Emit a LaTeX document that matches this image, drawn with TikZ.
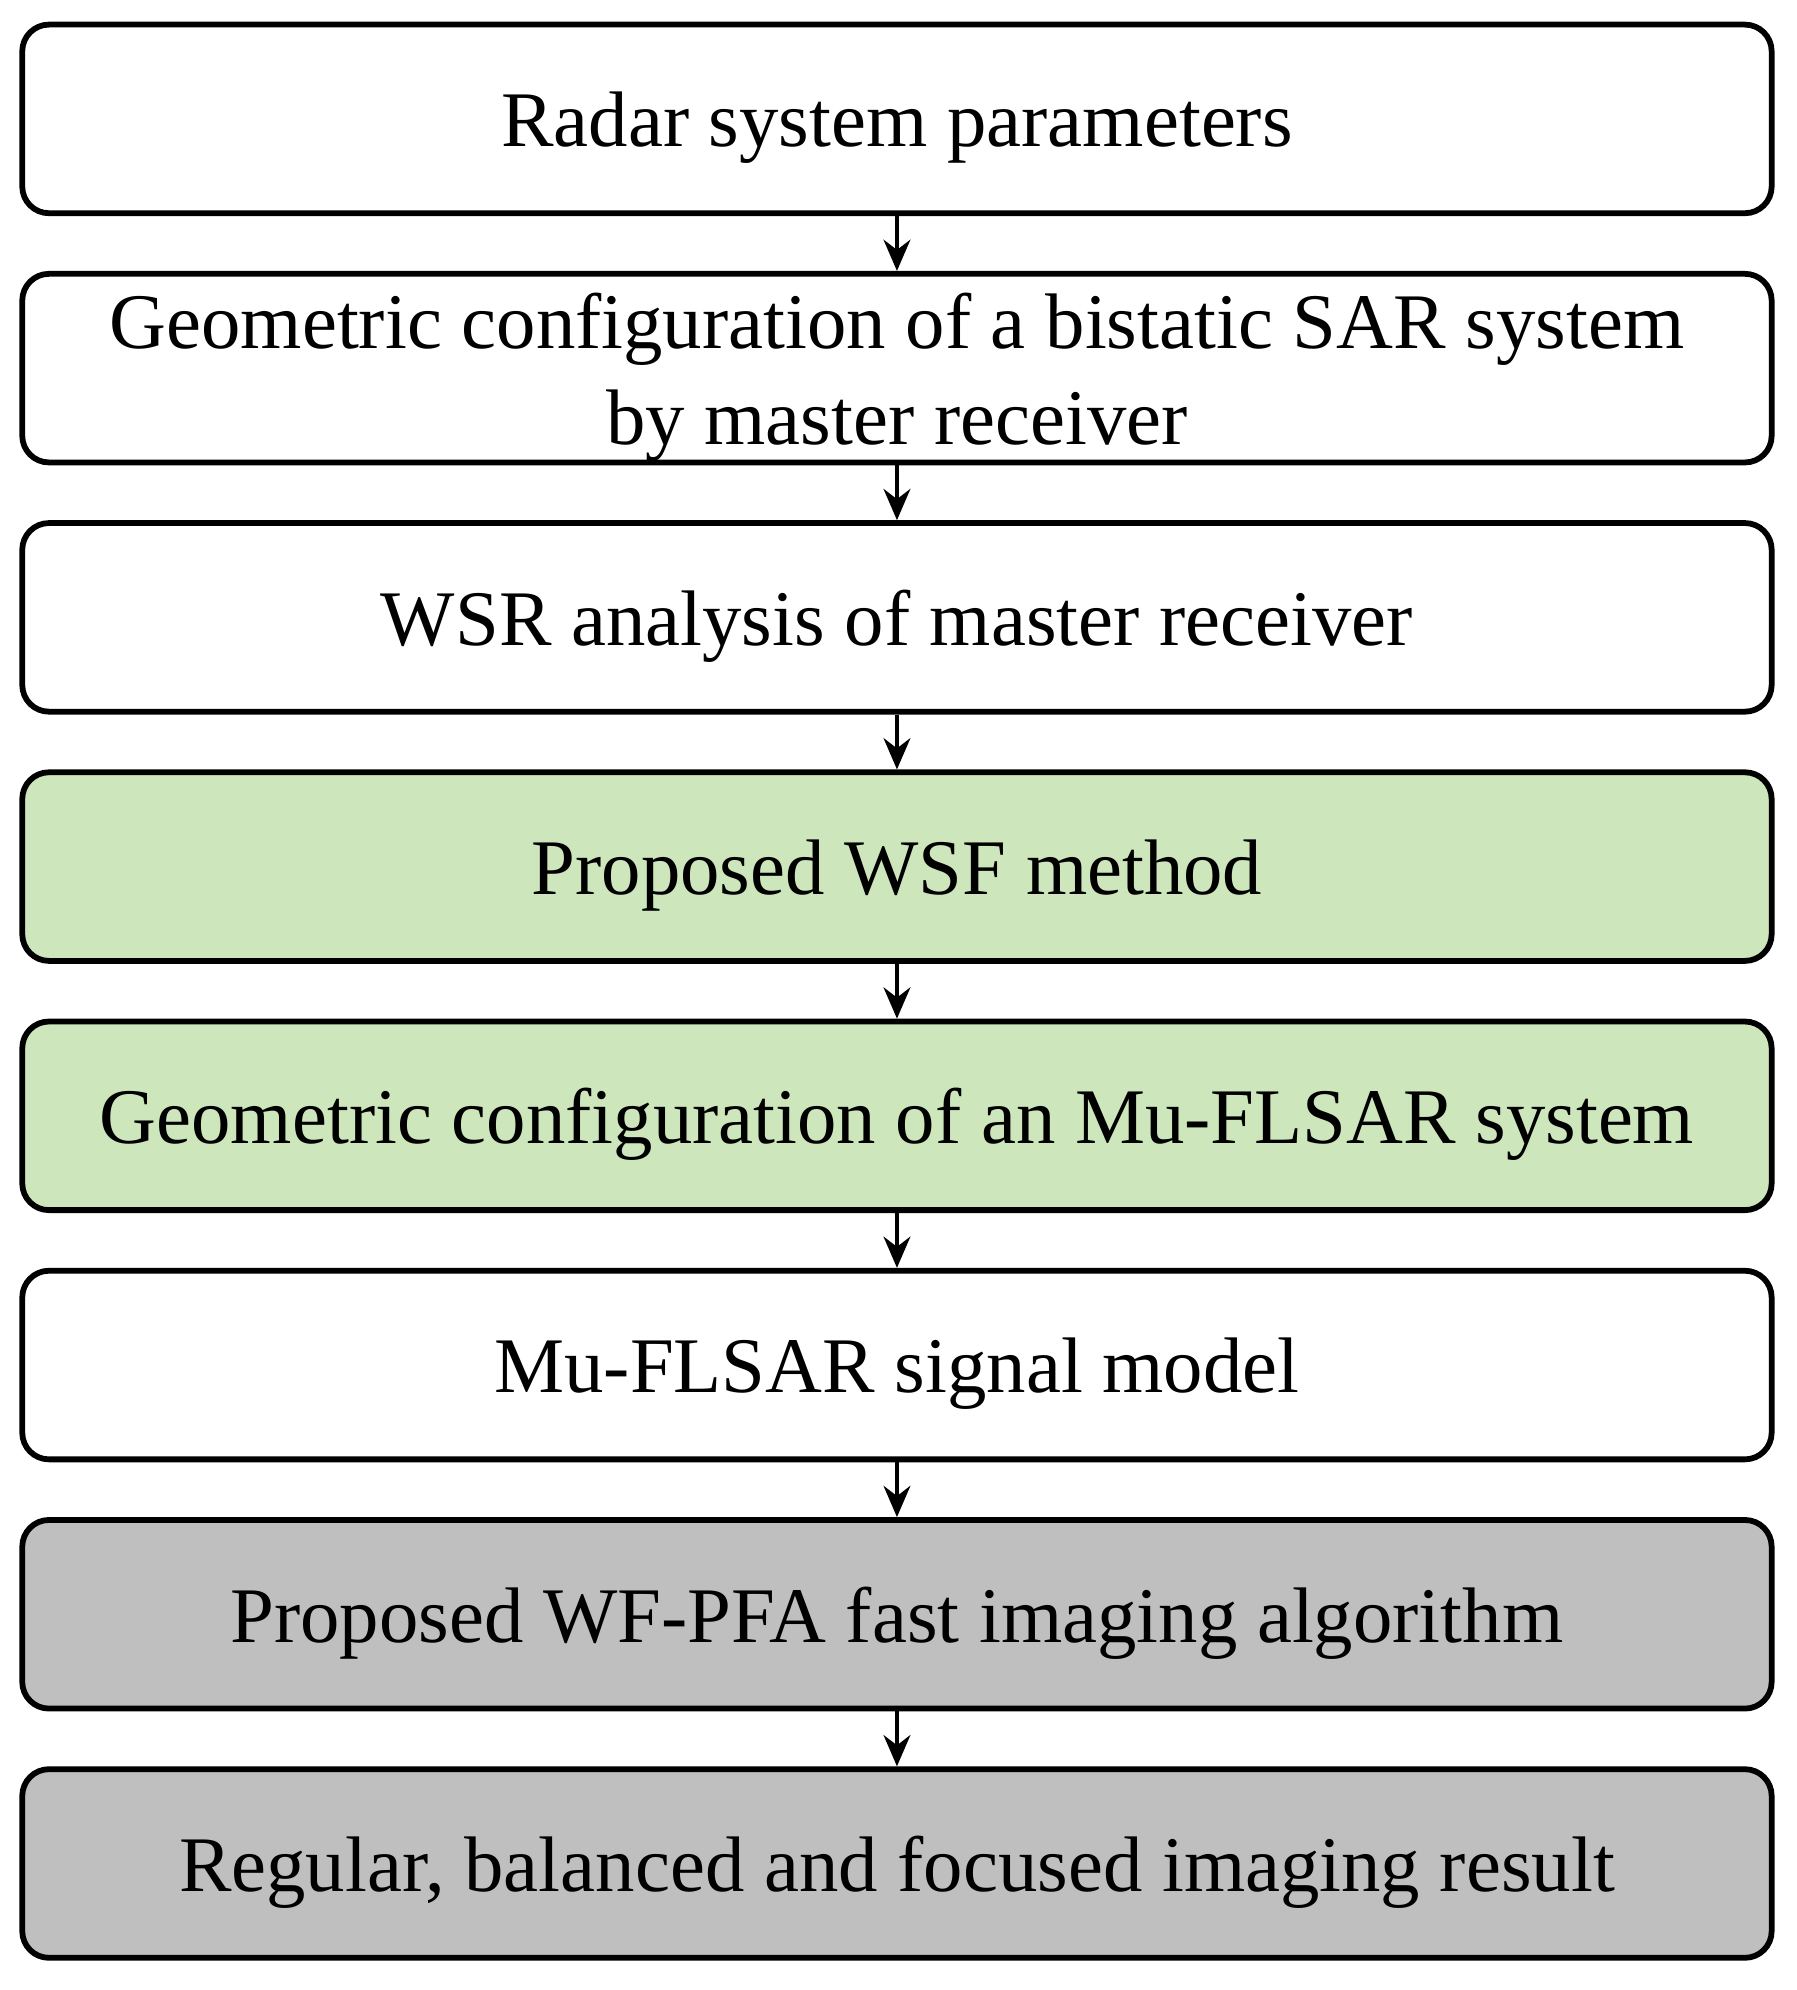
\documentclass[tikz,border=0pt]{standalone}
\usepackage{fontspec}
\setmainfont{Liberation Serif}
\usetikzlibrary{arrows.meta}
\definecolor{gfill}{HTML}{CDE6BB}
\definecolor{hfill}{HTML}{BFBFBF}
\begin{document}
\begin{tikzpicture}[x=0.01cm,y=-0.01cm,
  box/.style={draw,line width=1.3pt,rounded corners=6pt,minimum width=13.82cm,minimum height=1.49cm,inner sep=0pt},
  txt/.style={align=center,inner sep=0pt,yshift=-0.07cm,font=\fontsize{17.7}{21.5}\selectfont},
  arr/.style={-{Stealth[length=7pt,width=6pt]},line width=1pt}]
\useasboundingbox (0,0) rectangle (1420,1573);
\node[box] (b1) at (709,94) {};
\node[box] (b2) at (709,291) {};
\node[box] (b3) at (709,488) {};
\node[box,fill=gfill] (b4) at (709,685) {};
\node[box,fill=gfill] (b5) at (709,882) {};
\node[box] (b6) at (709,1079) {};
\node[box,fill=hfill] (b7) at (709,1276) {};
\node[box,fill=hfill] (b8) at (709,1473) {};
\node[txt] (t1) at (b1) {Radar system parameters};
\node[txt] (t2) at (b2) {Geometric configuration of a bistatic SAR system\\by master receiver};
\node[txt] (t3) at (b3) {WSR analysis of master receiver};
\node[txt] (t4) at (b4) {Proposed WSF method};
\node[txt] (t5) at (b5) {Geometric configuration of an Mu-FLSAR system};
\node[txt] (t6) at (b6) {Mu-FLSAR signal model};
\node[txt] (t7) at (b7) {Proposed WF-PFA fast imaging algorithm};
\node[txt] (t8) at (b8) {Regular, balanced and focused imaging result};
\foreach \a/\b in {b1/b2,b2/b3,b3/b4,b4/b5,b5/b6,b6/b7,b7/b8}
  \draw[arr] (\a.south) -- (\b.north);
\end{tikzpicture}
\end{document}
